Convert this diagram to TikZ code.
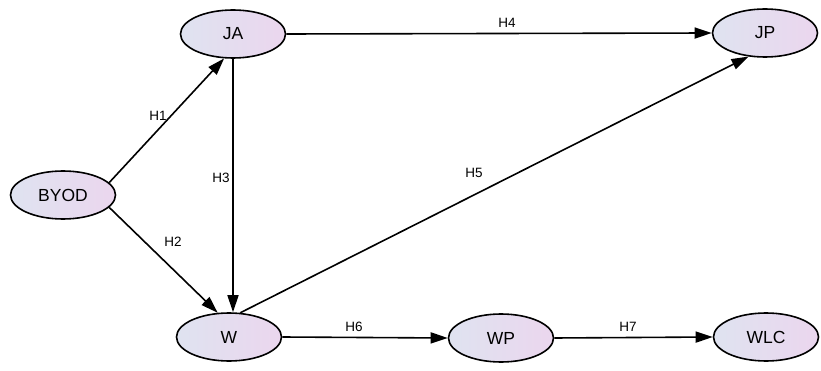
\documentclass[tikz,border=0pt]{standalone}
\usepackage{fontspec}
\setmainfont{Liberation Sans}
\usetikzlibrary{shapes.geometric, arrows.meta}

\definecolor{shadeleft}{HTML}{DFE3F0}
\definecolor{shaderight}{HTML}{EBD6EE}

\tikzset{
  construct/.style={ellipse, draw, line width=1.6pt, minimum width=105pt,
    minimum height=48pt, inner sep=0pt, left color=shadeleft,
    right color=shaderight, font=\fontsize{17.5}{18}\selectfont},
  path/.style={line width=1.6pt, -{Triangle[length=17pt, width=11pt]}},
  hyp/.style={font=\fontsize{13.5}{14}\selectfont}
}

\begin{document}
\begin{tikzpicture}[x=1pt, y=-1pt]
      \useasboundingbox (0,0) rectangle (821,371);
      \node[construct] (byod) at (63,195) {BYOD};
      \node[construct] (ja) at (233,34) {JA};
      \node[construct] (jp) at (765,33) {JP};
      \node[construct] (w) at (229,337) {W};
      \node[construct] (wp) at (501,338) {WP};
      \node[construct] (wlc) at (766,337) {WLC};
      \draw[path] (byod.15) -- (ja.250);
      \draw[path] (byod.-15) -- (w.115);
      \draw[path] (ja.south) -- (ja.south |- w.north);
      \draw[path] (ja.east) -- (jp.west);
      \draw[path] (w.65) -- (jp.235);
      \draw[path] (w.east) -- (wp.west);
      \draw[path] (wp.east) -- (wlc.west);
      % hypothesis labels
      \node[hyp] (h1) at (158,116) {H1};
      \node[hyp] (h2) at (173,242) {H2};
      \node[hyp] (h3) at (221,178) {H3};
      \node[hyp] (h4) at (507,23) {H4};
      \node[hyp] (h5) at (474,173) {H5};
      \node[hyp] (h6) at (354,327) {H6};
      \node[hyp] (h7) at (628,327) {H7};
    \end{tikzpicture}
\end{document}
